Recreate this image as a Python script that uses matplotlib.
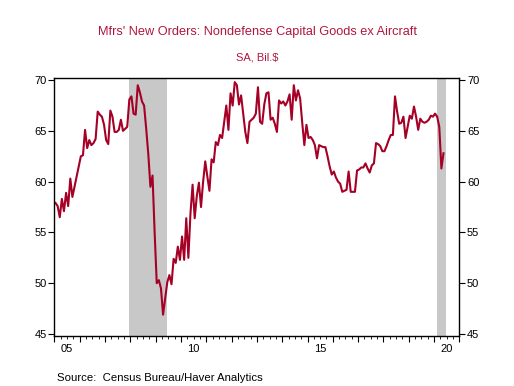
import numpy as np
import matplotlib
matplotlib.use("Agg")
import matplotlib.pyplot as plt
from matplotlib.ticker import MultipleLocator

plt.rcParams['font.family'] = ['Liberation Sans', 'DejaVu Sans']

# monthly values, Jan 2005 .. May 2020 (SA, Bil.$)
start_year = 2005
orders = [
    57.9, 57.6, 56.5, 58.3, 57.1, 58.9, 57.6, 60.3, 58.5, 59.5, 60.5, 61.5,  # 2005
    62.5, 62.6, 65.1, 63.3, 64.1, 63.6, 63.8, 64.2, 66.9, 66.6, 66.4, 65.6,  # 2006
    64.1, 63.7, 67.0, 66.4, 64.9, 64.9, 65.1, 66.1, 65.0, 65.2, 65.4, 68.1,  # 2007
    68.4, 66.7, 66.6, 69.5, 68.8, 67.9, 67.5, 65.2, 62.7, 59.5, 60.6, 55.0,  # 2008
    50.0, 50.3, 49.5, 46.9, 48.5, 50.1, 50.8, 49.9, 52.4, 52.0, 53.6, 52.3,  # 2009
    54.6, 52.3, 56.4, 52.5, 56.9, 59.7, 56.4, 58.6, 59.9, 57.5, 60.0, 62.0,  # 2010
    60.5, 59.1, 62.2, 61.9, 63.9, 63.6, 64.6, 64.3, 65.9, 67.5, 65.1, 68.7,  # 2011
    67.5, 69.8, 69.5, 67.6, 68.5, 66.7, 64.9, 63.8, 65.9, 66.1, 66.3, 66.7,  # 2012
    69.3, 65.9, 65.7, 67.6, 68.7, 68.8, 66.1, 66.3, 65.7, 64.9, 68.0, 67.7,  # 2013
    67.9, 67.5, 67.9, 68.6, 66.1, 69.5, 68.0, 69.0, 68.2, 65.8, 63.6, 65.6,  # 2014
    64.3, 64.4, 64.1, 63.6, 62.3, 63.6, 63.5, 63.4, 63.4, 62.5, 61.5, 60.7,  # 2015
    61.0, 60.4, 60.0, 59.8, 59.0, 59.1, 59.2, 61.0, 59.0, 59.0, 59.0, 61.1,  # 2016
    61.2, 61.4, 61.4, 61.8, 61.3, 60.9, 61.6, 61.8, 63.8, 63.7, 63.5, 63.0,  # 2017
    63.0, 63.5, 64.1, 64.6, 64.6, 68.4, 66.9, 65.7, 65.8, 66.4, 64.3, 65.4,  # 2018
    66.5, 66.2, 67.4, 66.4, 65.1, 66.2, 65.9, 65.8, 65.9, 66.1, 66.5, 66.4,  # 2019
    66.7, 66.4, 65.4, 61.3, 62.8,                                            # 2020
]
recessions = [(2007 + 11.5 / 12, 2009 + 5.5 / 12), (2020 + 1.5 / 12, 2020 + 5.5 / 12)]
year_labels = [2005, 2010, 2015, 2020]

t = start_year + (np.arange(len(orders)) + 0.5) / 12

fig = plt.figure(figsize=(5.14, 3.86), dpi=100)
ax = fig.add_axes([0.106, 0.1295, 0.7876, 0.6695])

for r0, r1 in recessions:
    ax.axvspan(r0, r1, color='#c8c8c8', lw=0)
ax.plot(t, orders, color='#a50026', lw=1.5)

ax.set_xlim(2005, 2021)
ax.set_ylim(44.8, 70.25)

ax.xaxis.set_major_locator(MultipleLocator(1))
ax.xaxis.set_minor_locator(MultipleLocator(0.25))
ax.tick_params(axis='x', which='major', length=4, width=0.8, labelbottom=False)
ax.tick_params(axis='x', which='minor', length=2, width=0.6)
for yr in year_labels:
    ax.text(yr + 0.5, -0.03, str(yr)[2:], transform=ax.get_xaxis_transform(),
            ha='center', va='top', fontsize=8)

ax.set_yticks([45, 50, 55, 60, 65, 70])
ax.tick_params(axis='y', which='major', length=4, width=0.8, labelsize=8,
               left=True, right=True, labelleft=True, labelright=True, pad=1.5)
for s in ax.spines.values():
    s.set_linewidth(1.0)

fig.text(0.5, 0.917, "Mfrs' New Orders: Nondefense Capital Goods ex Aircraft",
         ha='center', va='center', fontsize=9.2, color='#b0173f')
fig.text(0.5, 0.85, "SA, Bil.$", ha='center', va='center', fontsize=8, color='#b0173f')
fig.text(0.11, 0.021, "Source:  Census Bureau/Haver Analytics", ha='left', va='center',
         fontsize=8.2)

fig.savefig('out.png', dpi=100)
